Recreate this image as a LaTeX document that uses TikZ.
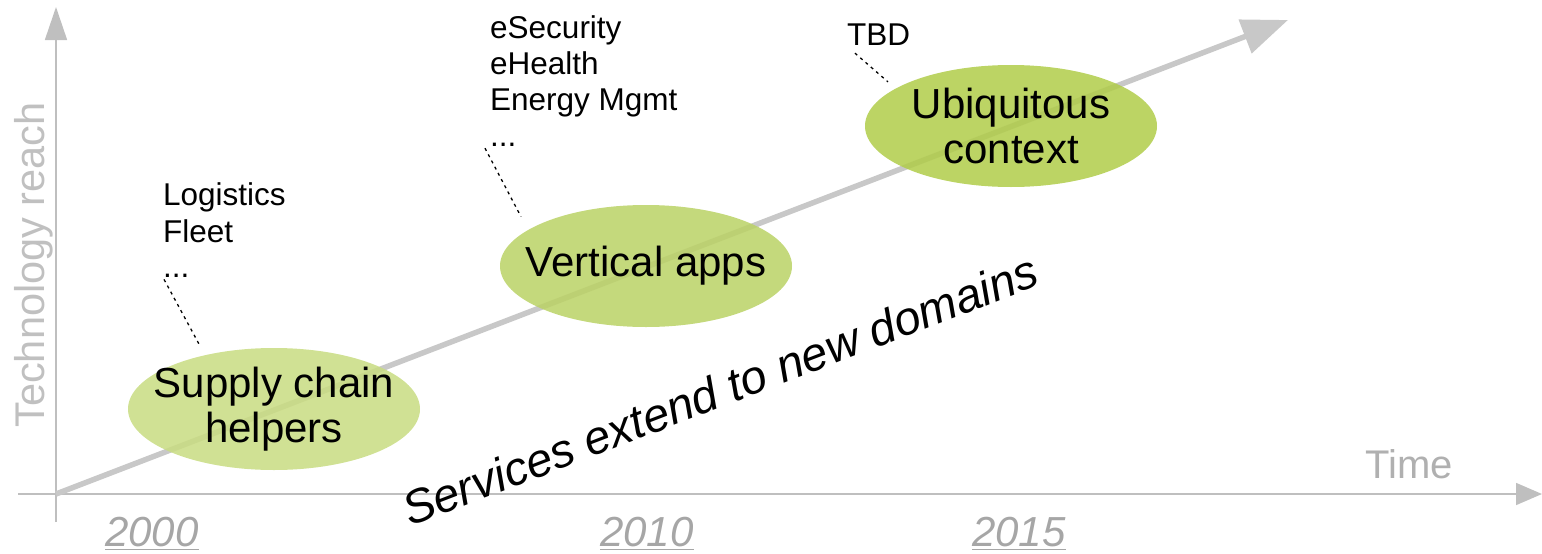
\documentclass[tikz,border=0pt]{standalone}
\usepackage{fontspec}
\setmainfont{Liberation Sans}
\usetikzlibrary{arrows.meta,shapes.geometric}

\definecolor{axisgray}{HTML}{BFBFBF}
\definecolor{trendgray}{HTML}{C8C8C8}
\definecolor{reachgray}{HTML}{C0C0C0}
\definecolor{timegray}{HTML}{B0B0B0}
\definecolor{yeargray}{HTML}{A6A6A6}
\definecolor{supplygreen}{HTML}{C8DC81}
\definecolor{verticalgreen}{HTML}{BAD265}
\definecolor{ubiqgreen}{HTML}{B0CC49}

\newcommand{\yearline}[1]{\setbox0\hbox{#1}\rlap{\usebox0}\rule[-4pt]{\wd0}{1.5pt}}

\tikzset{
  axis/.style={draw=axisgray, line width=1.6pt},
  phase/.style={ellipse, minimum width=292pt, minimum height=122pt,
    inner xsep=-20pt, inner ysep=-5pt,
    fill opacity=0.85, text opacity=1, align=center,
    font=\fontsize{42}{45}\selectfont},
  usecase/.style={anchor=base west, inner sep=0pt, font=\fontsize{31.5}{37}\selectfont},
  yearlabel/.style={anchor=base, inner sep=0pt, text=yeargray,
    font=\fontsize{42}{45}\selectfont\itshape},
  leader/.style={line width=1.3pt, dash pattern=on 3pt off 4pt}
}

\begin{document}
\begin{tikzpicture}[x=1pt, y=-1pt]
  \useasboundingbox (0,0) rectangle (1542,554);

  % axes
  \coordinate (origin) at (56,494);
  \coordinate (ybottom) at (56,522);
  \coordinate (ytop) at (56,7);
  \coordinate (xleft) at (18,494);
  \coordinate (xright) at (1542,494);
  \draw [axis, -{Triangle[length=33pt,width=22pt]}] (ybottom) -- (ytop);
  \draw [axis, -{Triangle[length=26pt,width=22pt]}] (xleft) -- (xright);

  \node [rotate=90, text=reachgray, font=\fontsize{41.5}{45}\selectfont] (reach) at (34,265) {Technology reach};
  \node [anchor=base west, inner sep=0pt, text=timegray, font=\fontsize{40}{44}\selectfont] (time) at (1365,478) {Time};

  \node [yearlabel] (y2000) at (152,546) {\yearline{2000}};
  \node [yearlabel] (y2010) at (647,546) {\yearline{2010}};
  \node [yearlabel] (y2015) at (1019,546) {\yearline{2015}};

  % growth arrow
  \coordinate (tip) at (1288,20);
  \draw [draw=trendgray, line width=5.5pt, -{Triangle[length=46pt,width=35pt]}] (origin) -- (tip);

  % phases
  \node [phase, fill=supplygreen] (supply) at (274,409) {Supply chain\\helpers};
  \node [phase, fill=verticalgreen] (vertical) at (646,266) {Vertical apps};
  \node [phase, fill=ubiqgreen] (ubiq) at (1011,126) {Ubiquitous\\context};

  % domains
  \node [usecase] (logistics) at (163,205) {Logistics};
  \node [usecase] (fleet) at (163,242) {Fleet};
  \node [usecase] (moresupply) at (163,277) {...};

  \node [usecase] (esecurity) at (490,38) {eSecurity};
  \node [usecase] (ehealth) at (490,74) {eHealth};
  \node [usecase] (energy) at (490,110) {Energy Mgmt};
  \node [usecase] (morevertical) at (490,146) {...};

  \node [usecase] (tbd) at (847,45) {TBD};

  \draw [leader, shorten <=-2pt, shorten >=9pt] ([shift={(2pt,-4pt)}]moresupply.south west) -- (supply.142);
  \draw [leader, shorten >=15pt] ([shift={(-5pt,-2pt)}]morevertical.south west) -- (vertical.163);
  \draw [leader, shorten >=10pt] ([shift={(8pt,-8pt)}]tbd.south west) -- (ubiq.162);

  \node [rotate=21, font=\fontsize{47}{50}\selectfont\itshape] (services) at (720,390) {Services extend to new domains};
\end{tikzpicture}
\end{document}
